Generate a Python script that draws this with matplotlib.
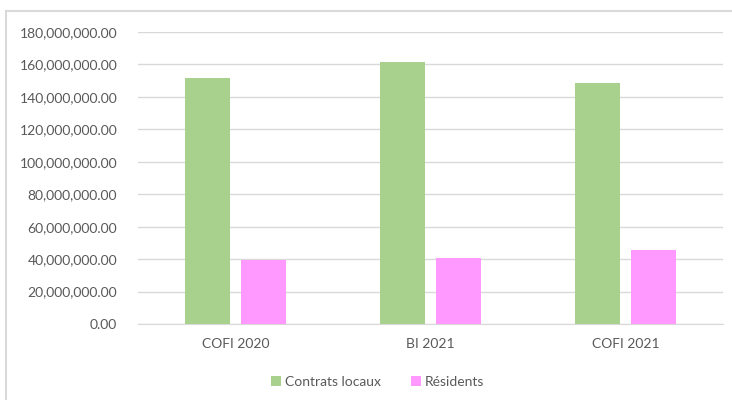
import numpy as np
import matplotlib.pyplot as plt
from matplotlib.patches import Rectangle

categories = ['COFI 2020', 'BI 2021', 'COFI 2021']
contrats_locaux = [151.6e6, 161.5e6, 148.6e6]
residents = [39.5e6, 40.7e6, 45.6e6]
yticks = np.arange(0, 180e6 + 1, 20e6)

plt.rcParams['font.family'] = ['Lato', 'DejaVu Sans']
grey = '#595959'

fig = plt.figure(figsize=(7.32, 4.00), dpi=100)
ax = fig.add_axes([0.1885, 0.19, 0.7995, 0.73])

x = np.arange(len(categories))
w = 0.23
ax.bar(x - 0.144, contrats_locaux, w, color='#a9d18e', label='Contrats locaux', zorder=3)
ax.bar(x + 0.144, residents, w, color='#ff99ff', label='Résidents', zorder=3)

ax.set_xlim(-0.5, 2.5)
ax.set_ylim(0, 180e6)
ax.set_yticks(yticks)
ax.set_yticklabels([f'{v:,.2f}' for v in yticks])
ax.set_xticks(x)
ax.set_xticklabels(categories)
ax.tick_params(length=0, colors=grey, labelsize=10)
ax.tick_params(axis='y', pad=15)
ax.tick_params(axis='x', pad=10)
ax.grid(axis='y', color='#d9d9d9', linewidth=1, zorder=0)
for s in ['top', 'right', 'left']:
    ax.spines[s].set_visible(False)
ax.spines['bottom'].set_color('#d9d9d9')

leg = fig.legend(loc='center', bbox_to_anchor=(0.516, 0.045), ncol=2, frameon=False,
                 fontsize=10, handlelength=0.7, handleheight=0.7, columnspacing=2.2,
                 handletextpad=0.3)
for t in leg.get_texts():
    t.set_color(grey)

# chart border: only the left and top edges fall inside the picture
fig.patches.append(Rectangle((6 / 732, -0.05), 1.0, 1.05 - 11 / 400, transform=fig.transFigure,
                             fill=False, edgecolor='#d9d9d9', linewidth=1.5))

fig.savefig('out.png', dpi=100)
